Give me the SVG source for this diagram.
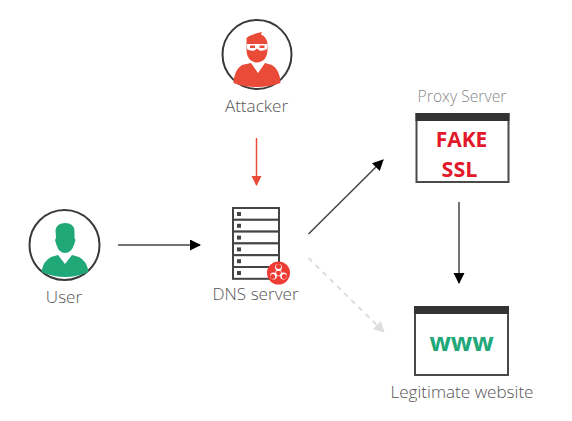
<svg xmlns="http://www.w3.org/2000/svg" width="572" height="421" viewBox="0 0 572 421">
<style>
.lbl{font-family:"Open Sans","Liberation Sans",sans-serif;font-size:17.100px;font-weight:300;fill:#555;text-anchor:middle}
.ring{fill:#fff;stroke:#3a3a3a;stroke-width:2}
.win{fill:#fff;stroke:#4a4a4a;stroke-width:2}
.bar{fill:#333}
.big{font-family:"Open Sans","Liberation Sans",sans-serif;font-weight:700;text-anchor:middle}
.c{fill:none;stroke:#444;stroke-width:1.500}
.row{fill:#fff;stroke:#444;stroke-width:2}
.dot{fill:#444}
</style>
<defs>
<marker id="ak" markerUnits="userSpaceOnUse" markerWidth="12" markerHeight="12" refX="10" refY="5.500" orient="auto"><path d="M0 0L11 5.500L0 11Z" fill="#000"/></marker>
<marker id="ar" markerUnits="userSpaceOnUse" markerWidth="11" markerHeight="11" refX="9" refY="5" orient="auto"><path d="M0 0L10 5L0 10Z" fill="#ea4b38"/></marker>
<marker id="ag" markerUnits="userSpaceOnUse" markerWidth="12" markerHeight="12" refX="10" refY="5.500" orient="auto"><path d="M0 0L11 5.500L0 11Z" fill="#ddd"/></marker>
</defs>
<rect width="572" height="421" fill="#fff"/>
<g id="connectors">
<path class="c" d="M118 245H200" marker-end="url(#ak)"/>
<path class="c" d="M256.500 138V185" style="stroke:#ea4b38" marker-end="url(#ar)"/>
<path class="c" d="M308.500 234L383 160" marker-end="url(#ak)"/>
<path class="c" d="M308.500 258L384 332" style="stroke:#ddd;stroke-width:2;stroke-dasharray:5 5" marker-end="url(#ag)"/>
<path class="c" d="M459 202V283" marker-end="url(#ak)"/>
</g>
<g id="attacker">
<circle class="ring" cx="257" cy="54.500" r="34.500"/>
<path d="M246.500 38Q251 34 262 32L261 34.500Q267 37 267.500 44V50Q267.500 57 263 60.500Q257 64.500 251 60.500Q246.500 57 246.500 50Z" fill="#ea4b38"/>
<path d="M246.500 44H267.500L267 49Q263 51.500 259.500 50.500L257 48.500L254.500 50.500Q250 51.500 247 49Z" fill="#fff"/>
<rect x="250" y="45.500" width="5" height="2.500" fill="#ea4b38"/><rect x="259.500" y="45.500" width="5" height="2.500" fill="#ea4b38"/>
<path d="M251 63L258 73L265 63L272 65Q280 70 280.500 83Q270 87 257 87Q244 87 233.500 83Q234 70 242 65Z" fill="#ea4b38"/>
<text class="lbl" x="256.500" y="112">Attacker</text>
</g>
<g id="user">
<circle class="ring" cx="64.500" cy="245" r="35"/>
<path d="M55.500 230Q57 223 65 223Q74 223 74.500 231V238L75.500 240L74 245Q71 253 65 253Q59 253 56.500 245L55 240L56 238Z" fill="#20a878"/>
<path d="M58 255L65 264L72 255L79 257Q87 261 88.500 272Q77 277 65 277Q53 277 41.500 272Q43 261 51 257Z" fill="#20a878"/>
<text class="lbl" x="64" y="303">User</text>
</g>
<g id="dns-server">
<rect class="row" x="233" y="208" width="46" height="11.800"/>
<rect class="row" x="233" y="219.800" width="46" height="11.800"/>
<rect class="row" x="233" y="231.600" width="46" height="11.800"/>
<rect class="row" x="233" y="243.400" width="46" height="11.800"/>
<rect class="row" x="233" y="255.200" width="46" height="11.800"/>
<rect class="row" x="233" y="267" width="46" height="11.800"/>
<rect class="dot" x="237" y="212" width="4" height="4"/>
<rect class="dot" x="237" y="223.800" width="4" height="4"/>
<rect class="dot" x="237" y="235.600" width="4" height="4"/>
<rect class="dot" x="237" y="247.400" width="4" height="4"/>
<rect class="dot" x="237" y="259.200" width="4" height="4"/>
<rect class="dot" x="237" y="271" width="4" height="4"/>
<circle cx="278.500" cy="273" r="11.500" fill="#ee3b33"/>
<circle cx="278.500" cy="267.500" r="3.400" fill="#fff"/><circle cx="273.500" cy="276" r="3.400" fill="#fff"/><circle cx="283.500" cy="276" r="3.400" fill="#fff"/>
<circle cx="278.500" cy="266.500" r="2.500" fill="#ee3b33"/><circle cx="272.700" cy="276.500" r="2.500" fill="#ee3b33"/><circle cx="284.300" cy="276.500" r="2.500" fill="#ee3b33"/>
<circle cx="278.500" cy="273" r="3" fill="none" stroke="#fff" stroke-width="0.800"/>
<text class="lbl" x="255.500" y="300">DNS server</text>
</g>
<g id="proxy-server">
<text class="lbl" x="462" y="102" style="font-size:15.700px;fill:#888">Proxy Server</text>
<rect class="win" x="416.500" y="114" width="92" height="68"/>
<rect class="bar" x="415.500" y="113" width="94" height="8"/>
<text class="big" x="461.500" y="147" font-size="21" fill="#e3192b">FAKE</text>
<text class="big" x="459.500" y="177" font-size="21.500" fill="#e3192b">SSL</text>
</g>
<g id="legitimate-website">
<rect class="win" x="415" y="307" width="93" height="68"/>
<rect class="bar" x="414" y="306" width="95" height="8"/>
<text class="big" x="461.500" y="351" font-size="25" fill="#20a878">www</text>
<text class="lbl" x="462" y="398">Legitimate website</text>
</g>
</svg>
